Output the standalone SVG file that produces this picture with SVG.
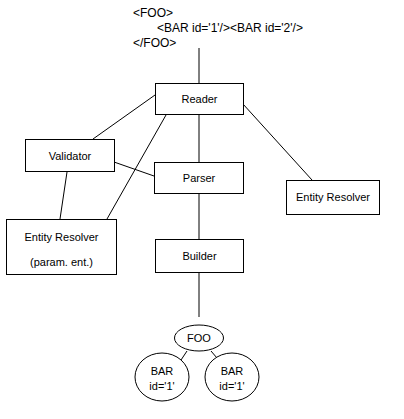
<svg xmlns="http://www.w3.org/2000/svg" width="404" height="419" viewBox="0 0 404 419">
<style>
.box{fill:#fff;stroke:#000;stroke-width:1}
.t{font-family:"Liberation Sans",Arial,sans-serif;font-size:11px;fill:#000;text-anchor:middle}
.src{font-family:"Liberation Sans",Arial,sans-serif;font-size:12px;fill:#000}
#connectors line{stroke:#000;stroke-width:1}
</style>
<rect width="404" height="419" fill="#fff"/>
<g id="source">
<text class="src" x="133" y="17">&lt;FOO&gt;</text>
<text class="src" x="157" y="32">&lt;BAR id='1'/&gt;&lt;BAR id='2'/&gt;</text>
<text class="src" x="133" y="47">&lt;/FOO&gt;</text>
</g>
<g id="connectors">
<line x1="199" y1="48" x2="199" y2="83"/>
<line x1="155" y1="95" x2="93" y2="139"/>
<line x1="166" y1="115" x2="107" y2="219"/>
<line x1="199" y1="115" x2="199" y2="162"/>
<line x1="243" y1="104" x2="312" y2="180"/>
<line x1="114" y1="162" x2="154" y2="176"/>
<line x1="67" y1="172" x2="60" y2="219"/>
<line x1="199" y1="193" x2="199" y2="239"/>
<line x1="199" y1="272" x2="199" y2="317"/>
<line x1="187" y1="351" x2="181" y2="360"/>
<line x1="211" y1="351" x2="217" y2="358"/>
</g>
<g id="reader">
<rect class="box" x="155.5" y="83.5" width="88" height="31"/>
<text class="t" x="199.5" y="103">Reader</text>
</g>
<g id="validator">
<rect class="box" x="25.5" y="139.5" width="89" height="32"/>
<text class="t" x="70" y="160">Validator</text>
</g>
<g id="parser">
<rect class="box" x="154.5" y="162.5" width="89" height="31"/>
<text class="t" x="199" y="182">Parser</text>
</g>
<g id="entity-resolver-param">
<rect class="box" x="6.5" y="219.5" width="110" height="55"/>
<text class="t" x="61.5" y="241">Entity Resolver</text>
<text class="t" x="61.5" y="266">(param. ent.)</text>
</g>
<g id="entity-resolver">
<rect class="box" x="286.5" y="180.5" width="93" height="34"/>
<text class="t" x="333" y="201">Entity Resolver</text>
</g>
<g id="builder">
<rect class="box" x="155.5" y="239.5" width="88" height="33"/>
<text class="t" x="199.5" y="260">Builder</text>
</g>
<g id="foo">
<ellipse class="box" cx="199" cy="338" rx="24.5" ry="13"/>
<text class="t" x="199" y="342">FOO</text>
</g>
<g id="bar1">
<ellipse class="box" cx="162" cy="377" rx="27" ry="24"/>
<text class="t" x="162" y="375">BAR</text>
<text class="t" x="162" y="390">id='1'</text>
</g>
<g id="bar2">
<ellipse class="box" cx="232" cy="377" rx="27" ry="24"/>
<text class="t" x="232" y="375">BAR</text>
<text class="t" x="232" y="390">id='1'</text>
</g>
</svg>
